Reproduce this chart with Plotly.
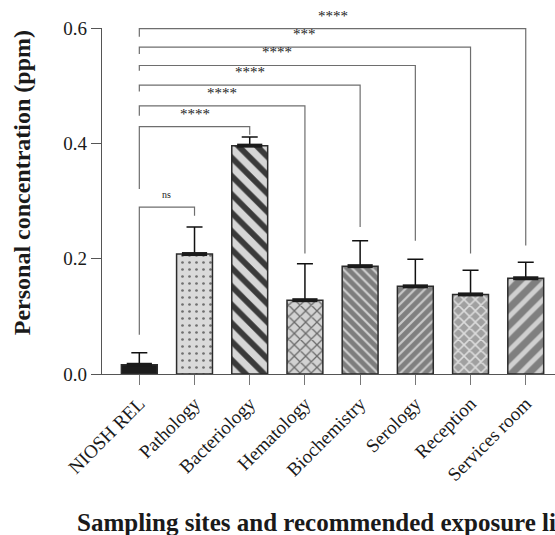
import plotly.graph_objects as go

# Measured personal formaldehyde concentrations (ppm)
sites = ["NIOSH REL", "Pathology", "Bacteriology", "Hematology",
         "Biochemistry", "Serology", "Reception", "Services room"]
means = [0.016, 0.208, 0.396, 0.128, 0.187, 0.152, 0.138, 0.166]
sd_upper = [0.021, 0.047, 0.015, 0.063, 0.044, 0.047, 0.042, 0.028]

# Significance vs. NIOSH REL: label, bracket top, left-leg end, right-leg end
sig_labels = ["ns", "****", "****", "****", "****", "***", "****"]
sig_top = [0.2895, 0.429, 0.465, 0.501, 0.535, 0.567, 0.599]
sig_left_end = [0.068, 0.321, 0.448, 0.490, 0.526, 0.555, 0.585]
sig_right_end = [0.2745, 0.415, 0.209, 0.255, 0.231, 0.209, 0.223]

# Fill patterns per bar
pat_shape = ["", ".", "\\", "x", "\\", "/", "x", "/"]
pat_bg = ["#1c1c1c", "#dadada", "#d6d6d6", "#d2d2d2", "#7d7d7d", "#808080", "#a0a0a0", "#7f7f7f"]
pat_fg = ["#1c1c1c", "#6f6f6f", "#3a3a3a", "#6a6a6a", "#d2d2d2", "#cacaca", "#dcdcdc", "#d0d0d0"]
pat_size = [8, 7, 13, 8, 7, 7, 8, 12]
pat_solid = [0.3, 0.12, 0.45, 0.3, 0.3, 0.3, 0.35, 0.4]

serif = "Liberation Serif, Times New Roman, serif"
x = list(range(len(sites)))

fig = go.Figure()
for i in x:
    fig.add_trace(go.Bar(
        x=[i], y=[means[i]], width=0.65,
        marker=dict(
            color=pat_bg[i],
            line=dict(color="#2b2b2b", width=1.5),
            pattern=dict(shape=pat_shape[i], fgcolor=pat_fg[i], fgopacity=1,
                         size=pat_size[i], solidity=pat_solid[i],
                         fillmode="overlay"),
        ),
        error_y=dict(type="data", symmetric=False, array=[sd_upper[i]],
                     arrayminus=[0], color="#111111", thickness=1.5, width=8),
        showlegend=False,
    ))

# thick mean markers on top of each bar
fig.add_trace(go.Scatter(
    x=x, y=means, mode="markers",
    marker=dict(symbol="line-ew", size=18, line=dict(width=4, color="#1a1a1a")),
    showlegend=False, hoverinfo="skip",
))

# significance brackets
bx, by = [], []
for j in range(len(sig_labels)):
    target = j + 1
    bx += [0, 0, target, target, None]
    by += [sig_left_end[j], sig_top[j], sig_top[j], sig_right_end[j], None]
fig.add_trace(go.Scatter(
    x=bx, y=by, mode="lines",
    line=dict(color="#6e6e6e", width=1.2),
    showlegend=False, hoverinfo="skip", cliponaxis=False,
))

for j, lab in enumerate(sig_labels):
    fig.add_annotation(
        x=(j + 1) / 2, y=sig_top[j], xref="x", yref="y",
        text=lab, showarrow=False, yshift=13,
        font=dict(family=serif, size=10 if lab == "ns" else 15, color="#222222"),
    )

W, H = 555, 535
L, T, B = 102, 28, 160.5
pw, ph = W - L, H - T - B

fig.add_annotation(
    text="<b>Personal concentration (ppm)</b>", textangle=-90,
    xref="paper", yref="paper", x=(22 - L) / pw, y=(H - B - 183.5) / ph,
    xanchor="center", yanchor="middle", showarrow=False,
    font=dict(family=serif, size=24, color="#1a1a1a"),
)
fig.add_annotation(
    text="<b>Sampling sites and recommended exposure limit</b>",
    xref="paper", yref="paper", x=(75 - L) / pw, y=-(523 - (H - B)) / ph,
    xanchor="left", yanchor="middle", showarrow=False,
    font=dict(family=serif, size=25, color="#1a1a1a"),
)

fig.update_layout(
    width=W, height=H,
    margin=dict(l=L, r=0, t=T, b=B, pad=0),
    plot_bgcolor="white", paper_bgcolor="white",
    bargap=0.35, barmode="overlay",
    xaxis=dict(
        range=[-0.676, 7.53], tickmode="array", tickvals=x, ticktext=sites,
        tickangle=-45, showline=True, linecolor="#555555", linewidth=1.2,
        ticks="outside", ticklen=10, tickcolor="#777777", tickwidth=1.2,
        showgrid=False, zeroline=False,
        tickfont=dict(family=serif, size=19, color="#1a1a1a"),
    ),
    yaxis=dict(
        range=[0, 0.6], tickvals=[0, 0.2, 0.4, 0.6],
        ticktext=["0.0", "0.2", "0.4", "0.6"],
        showline=True, linecolor="#555555", linewidth=1.2,
        ticks="outside", ticklen=10, tickcolor="#555555", tickwidth=1.2,
        showgrid=False, zeroline=False,
        tickfont=dict(family=serif, size=19, color="#1a1a1a"),
    ),
)

fig.write_html("out.html")
